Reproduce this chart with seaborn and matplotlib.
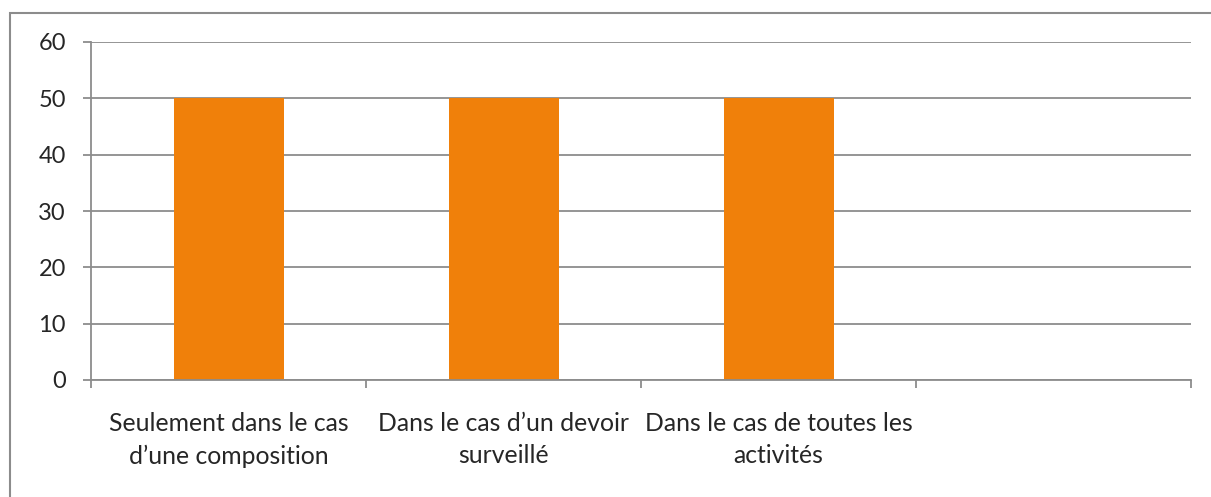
import numpy as np
import matplotlib.pyplot as plt
import matplotlib.patches as mpatches
import pandas as pd
import seaborn as sns

categories = [
    "Seulement dans le cas\nd\u2019une composition",
    "Dans le cas d\u2019un devoir\nsurveillé",
    "Dans le cas de toutes les\nactivités",
    "",
]
values = [50, 50, 50, np.nan]
y_ticks = [0, 10, 20, 30, 40, 50, 60]

bar_color = "#F0800A"
line_color = "#8C8C8C"

sns.set_style("white")
plt.rcParams["font.family"] = ["Lato", "DejaVu Sans"]

W, H = 1211, 497
fig = plt.figure(figsize=(W / 100, H / 100), dpi=100)
ax = fig.add_axes([91 / W, 1 - 380 / H, 1100 / W, 338 / H])

df = pd.DataFrame({"cat": categories, "val": values})
sns.barplot(data=df, x="cat", y="val", order=categories, color=bar_color,
            saturation=1, width=0.4, linewidth=0, ax=ax)

ax.set_xlim(-0.5, len(categories) - 0.5)
ax.set_ylim(0, 60)
ax.set_yticks(y_ticks)
ax.set_yticklabels([str(t) for t in y_ticks], fontsize=17)
ax.yaxis.grid(True, color=line_color, linewidth=1.3)
ax.set_axisbelow(True)
ax.set_xlabel("")
ax.set_ylabel("")

# category boundary ticks
ax.set_xticks(np.arange(-0.5, len(categories), 1.0))
ax.set_xticklabels([])
ax.tick_params(axis="x", length=6, width=1.3, color=line_color, direction="out", bottom=True)
ax.tick_params(axis="y", length=6, width=1.3, color=line_color, direction="out", left=True, pad=12)
ax.set_xticks(range(len(categories)), minor=True)
ax.set_xticklabels(categories, minor=True, fontsize=17.8, linespacing=1.5)
ax.tick_params(axis="x", which="minor", length=0, pad=23)

for side in ["top", "right"]:
    ax.spines[side].set_visible(False)
for side in ["left", "bottom"]:
    ax.spines[side].set_color(line_color)
    ax.spines[side].set_linewidth(1.3)

# outer frame (top and left visible, continues past the image)
frame = mpatches.Rectangle((10 / W, -0.1), 1.2, 1 - 13 / H + 0.1,
                           transform=fig.transFigure, fill=False,
                           edgecolor=line_color, linewidth=1.5)
fig.patches.append(frame)

fig.savefig("out.png", dpi=100)
